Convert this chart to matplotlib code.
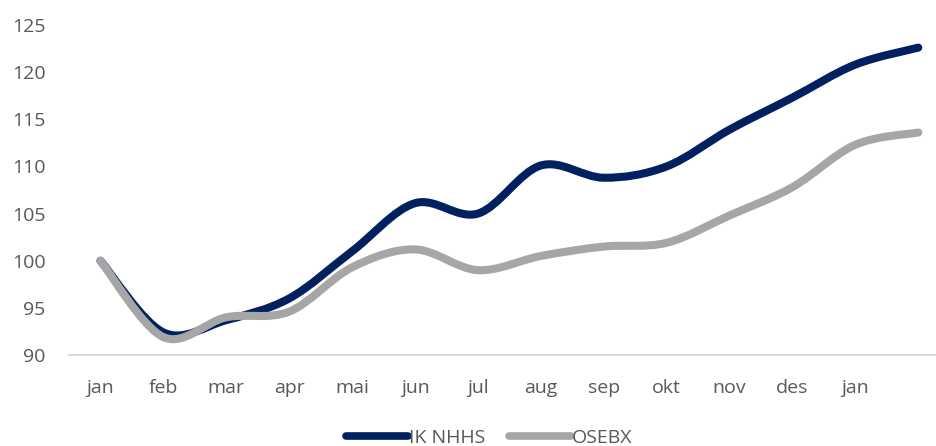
import matplotlib
matplotlib.use("Agg")
import matplotlib.pyplot as plt
from matplotlib.path import Path
from matplotlib.patches import PathPatch
from matplotlib.lines import Line2D

plt.rcParams['font.family'] = ['Open Sans', 'DejaVu Sans']

months = ["jan", "feb", "mar", "apr", "mai", "jun", "jul",
          "aug", "sep", "okt", "nov", "des", "jan"]
ik_nhhs = [100.0, 92.4, 93.7, 96.0, 101.0, 106.1, 105.0,
           110.1, 108.8, 110.0, 113.9, 117.3, 120.8, 122.6]
osebx = [100.0, 91.9, 94.0, 94.6, 99.3, 101.2, 99.0,
         100.5, 101.5, 101.9, 104.8, 107.8, 112.3, 113.6]

NAVY = "#002060"
GREY = "#a6a6a6"
TEXT = "#595959"


def smooth_path(xs, ys):
    # excel-like smoothed line, bezier segments through every point
    verts = [(xs[0], ys[0])]
    codes = [Path.MOVETO]
    n = len(xs)
    for i in range(n - 1):
        x0, y0 = (xs[i - 1], ys[i - 1]) if i > 0 else (xs[i], ys[i])
        x1, y1 = xs[i], ys[i]
        x2, y2 = xs[i + 1], ys[i + 1]
        x3, y3 = (xs[i + 2], ys[i + 2]) if i + 2 < n else (x2, y2)
        c1 = (x1 + (x2 - x0) / 6, y1 + (y2 - y0) / 6)
        c2 = (x2 - (x3 - x1) / 6, y2 - (y3 - y1) / 6)
        verts += [c1, c2, (x2, y2)]
        codes += [Path.CURVE4] * 3
    return Path(verts, codes)


fig = plt.figure(figsize=(9.37, 4.46), dpi=100)
ax = fig.add_axes([0.0736, 0.204, 0.94, 0.740])

xs = list(range(len(ik_nhhs)))
for vals, col in [(ik_nhhs, NAVY), (osebx, GREY)]:
    ax.add_patch(PathPatch(smooth_path(xs, vals), facecolor="none",
                           edgecolor=col, lw=5.8, capstyle="round",
                           joinstyle="round"))

ax.set_xlim(-0.5, 13.5)
ax.set_ylim(90, 125)
ax.set_yticks(range(90, 126, 5))
ax.set_xticks(range(len(months)))
ax.set_xticklabels(months)

for s in ["top", "right", "left"]:
    ax.spines[s].set_visible(False)
ax.spines["bottom"].set_color("#d9d9d9")
ax.spines["bottom"].set_linewidth(1.5)
ax.tick_params(length=0, labelsize=14, colors=TEXT)
ax.tick_params(axis="y", pad=17)
ax.tick_params(axis="x", pad=17)

handles = [Line2D([], [], color=NAVY, lw=5.5, solid_capstyle="round"),
           Line2D([], [], color=GREY, lw=5.5, solid_capstyle="round")]
fig.legend(handles, ["IK NHHS", "OSEBX"], loc="lower center",
           bbox_to_anchor=(0.522, -0.042), ncol=2, frameon=False,
           fontsize=14, labelcolor=TEXT, handlelength=3.2,
           handletextpad=0.05, columnspacing=1.2)

fig.savefig("out.png", dpi=100)
